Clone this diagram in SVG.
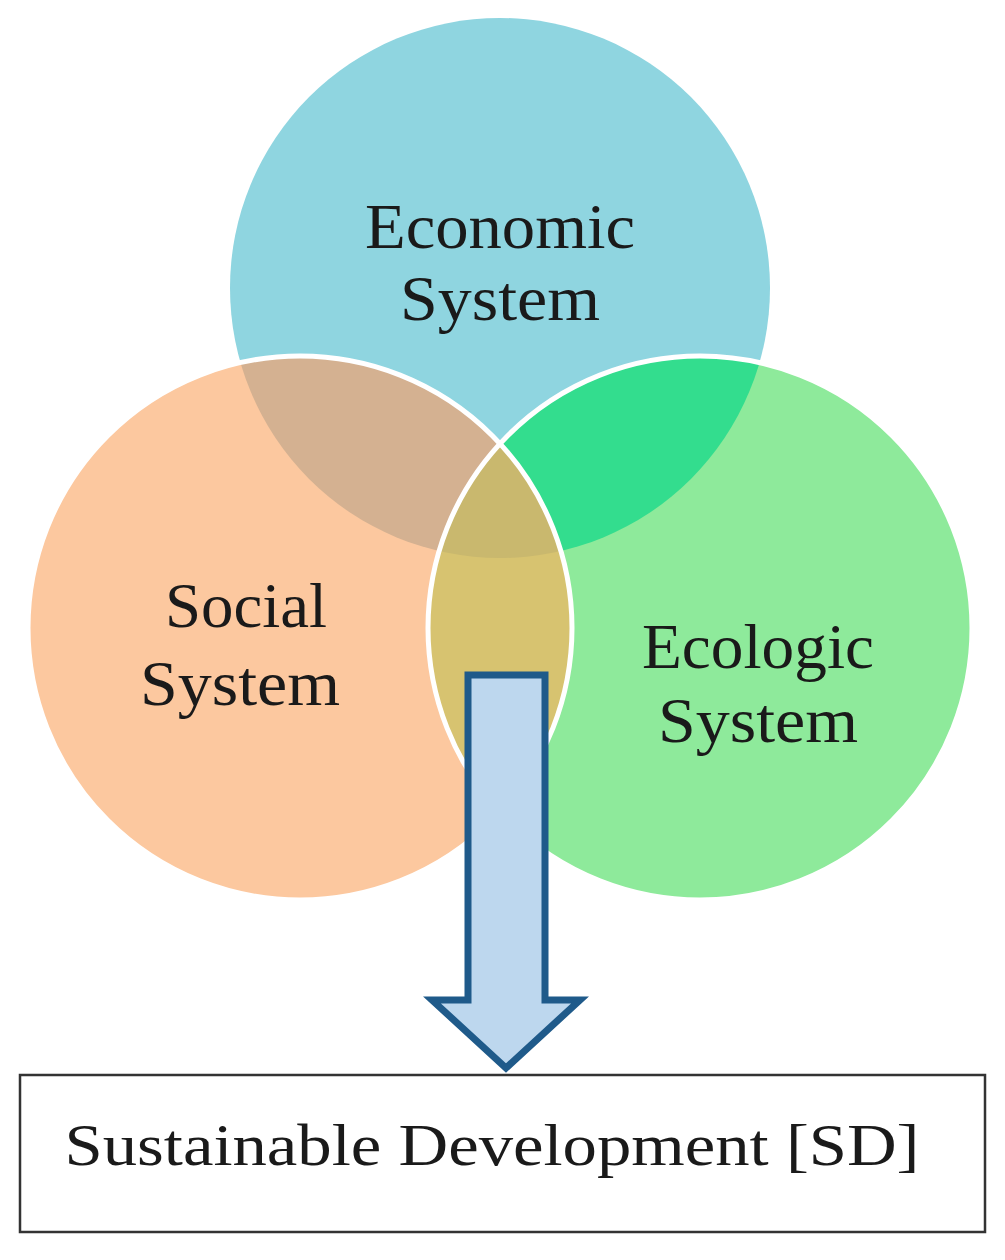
<svg xmlns="http://www.w3.org/2000/svg" width="1005" height="1260" viewBox="0 0 1005 1260">
<style>
.lbl{font-family:"Liberation Serif",serif;font-size:64px;fill:#1a1a1a;text-anchor:middle}
.ring{fill:none;stroke:#fff;stroke-width:5}
</style>
<defs>
<clipPath id="cE"><circle cx="500" cy="288" r="270"/></clipPath>
<clipPath id="cS"><circle cx="300" cy="628" r="272"/></clipPath>
<clipPath id="cG"><circle cx="700" cy="628" r="272"/></clipPath>
</defs>
<rect width="1005" height="1260" fill="#fff"/>
<g id="economic"><circle cx="500" cy="288" r="270" fill="#8FD5E0"/></g>
<g id="social"><circle cx="300" cy="628" r="272" fill="#FCC89F"/></g>
<g id="ecologic"><circle cx="700" cy="628" r="272" fill="#8EEA9B"/></g>
<g id="overlaps">
<circle cx="300" cy="628" r="272" fill="#D4B191" clip-path="url(#cE)"/>
<circle cx="700" cy="628" r="272" fill="#33DD8E" clip-path="url(#cE)"/>
<g clip-path="url(#cS)"><circle cx="700" cy="628" r="272" fill="#D7C370" clip-path="url(#cG)"/></g>
<g clip-path="url(#cE)"><g clip-path="url(#cS)"><circle cx="700" cy="628" r="272" fill="#C9B86E" clip-path="url(#cG)"/></g></g>
</g>
<g id="rings">
<circle class="ring" cx="300" cy="628" r="272"/>
<circle class="ring" cx="700" cy="628" r="272"/>
</g>
<g id="labels">
<text class="lbl" x="500" y="248" textLength="270" lengthAdjust="spacingAndGlyphs">Economic</text>
<text class="lbl" x="500" y="320" textLength="200" lengthAdjust="spacingAndGlyphs">System</text>
<text class="lbl" x="246" y="627" textLength="162" lengthAdjust="spacingAndGlyphs">Social</text>
<text class="lbl" x="240" y="705" textLength="200" lengthAdjust="spacingAndGlyphs">System</text>
<text class="lbl" x="758" y="668" textLength="232" lengthAdjust="spacingAndGlyphs">Ecologic</text>
<text class="lbl" x="758" y="742" textLength="200" lengthAdjust="spacingAndGlyphs">System</text>
</g>
<g id="connectors">
<path d="M468,675 H545 V1000 H580 L506,1068 L432,1000 H468 Z" fill="#BDD7EE" stroke="#1F5A8A" stroke-width="7" stroke-linejoin="miter"/>
</g>
<g id="sd">
<rect x="20" y="1075" width="965" height="157" fill="#fff" stroke="#333" stroke-width="2.5"/>
<text x="492" y="1165" textLength="855" lengthAdjust="spacingAndGlyphs" style="font-family:'Liberation Serif',serif;font-size:60px;fill:#1a1a1a;text-anchor:middle">Sustainable Development [SD]</text>
</g>
</svg>
